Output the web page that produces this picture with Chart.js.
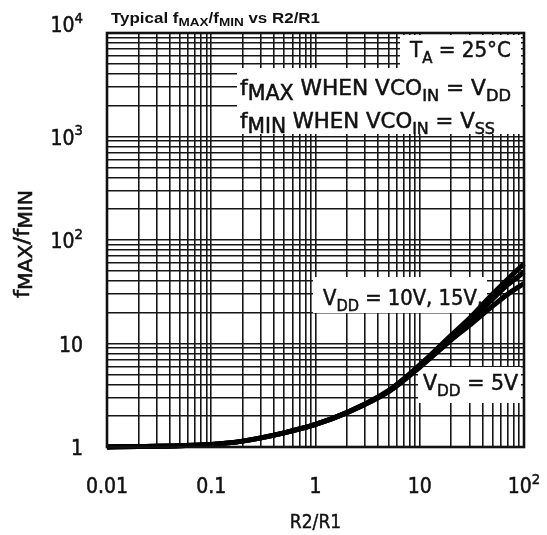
<!DOCTYPE html>
<html><head><meta charset="utf-8">
<script src="https://cdn.jsdelivr.net/npm/chart.js@4/dist/chart.umd.min.js"></script>
<style>html,body{margin:0;padding:0;background:#fff}#wrap{width:547px;height:535px}</style>
</head><body><div id="wrap"><canvas id="c" width="547" height="535"></canvas></div>
<script>
// ---- data ----
const ratioValues = [0.01, 0.02, 0.05, 0.1, 0.2, 0.5, 1, 2, 5, 10, 20, 30, 50, 70, 100];
const vdd15 = [1.0, 1.01, 1.03, 1.06, 1.14, 1.37, 1.65, 2.15, 3.5, 6.2, 12, 17.5, 30, 42, 59];
const vdd10 = [1.0, 1.01, 1.03, 1.06, 1.14, 1.37, 1.65, 2.15, 3.45, 6.1, 11.6, 16.5, 27, 37, 49];
const vdd5  = [1.0, 1.01, 1.03, 1.06, 1.14, 1.37, 1.65, 2.15, 3.4, 5.9, 10.8, 15, 23, 30, 38];
const xDecades = [0.01, 0.1, 1, 10, 100];
const yDecades = [1, 10, 100, 1000, 10000];
const gridSteps = [1, 2, 3, 4, 5, 6, 7, 8, 9];
const xTickLabels = [[["0.01"]], [["0.1"]], [["1"]], [["10"]], [["10"], ["2", "sup"]]];
const yTickLabels = [[["1"]], [["10"]], [["10"], ["2", "sup"]], [["10"], ["3", "sup"]], [["10"], ["4", "sup"]]];
const titleText = [["Typical f"], ["MAX", "tsub"], ["/f"], ["MIN", "tsub"], [" vs R2/R1"]];
const xTitle = [["R2/R1"]];
const yTitle = [["f"], ["MAX", "ysub"], ["/f"], ["MIN", "ysub"]];
const noteTemp = [["T"], ["A", "sub"], [" = 25°C"]];
const noteMax = [["f"], ["MAX", "fsub"], [" WHEN VCO"], ["IN", "sub"], [" = V"], ["DD", "sub"]];
const noteMin = [["f"], ["MIN", "fsub"], [" WHEN VCO"], ["IN", "sub"], [" = V"], ["SS", "sub"]];
const label10 = [["V"], ["DD", "sub"], [" = 10V, 15V,"]];
const label5 = [["V"], ["DD", "sub"], [" = 5V"]];

// ---- drawing helpers ----
const FONT_N = '"Liberation Sans Narrow","DejaVu Sans Condensed","Arial Narrow",sans-serif';
const FONT_B = '"Liberation Sans",Arial,sans-serif';
const KINDS = {
  n: {s: 1, dy: 0},
  sub: {s: 0.75, dy: 0.26},
  fsub: {s: 0.95, dy: 0.22},
  ysub: {s: 0.9, dy: 0.16},
  tsub: {s: 0.8, dy: 0.22},
  sup: {s: 0.7, dy: -0.45}
};
function drawRich(ctx, parts, x, y, o) {
  const size = o.size, fam = o.family || FONT_N, wt = o.weight || 'normal';
  const segs = parts.map(([t, k]) => {
    const K = KINDS[k || 'n'];
    const font = `${wt} ${(size * K.s).toFixed(1)}px ${fam}`;
    ctx.font = font;
    return {t, font, w: ctx.measureText(t).width, dy: K.dy * size};
  });
  const W = segs.reduce((a, s) => a + s.w, 0);
  const sx = o.width ? o.width / W : 1;
  let x0 = x;
  if (o.align === 'right') x0 = x - W * sx;
  else if (o.align === 'center') x0 = x - W * sx / 2;
  ctx.save();
  ctx.translate(x0, y);
  ctx.scale(sx, 1);
  ctx.fillStyle = '#111';
  ctx.strokeStyle = '#111';
  ctx.lineWidth = o.stroke || 0;
  ctx.textAlign = 'left';
  ctx.textBaseline = 'alphabetic';
  let cx = 0;
  for (const s of segs) {
    ctx.font = s.font;
    ctx.fillText(s.t, cx, s.dy);
    if (o.stroke) ctx.strokeText(s.t, cx, s.dy);
    cx += s.w;
  }
  ctx.restore();
}
function makeTicks(decades) {
  const t = [];
  for (let i = 0; i < decades.length - 1; i++)
    for (const s of gridSteps) t.push({value: +(decades[i] * s).toPrecision(6)});
  t.push({value: decades[decades.length - 1]});
  return t;
}

const annot = {
  id: 'annot',
  beforeDatasetsDraw(chart) {
    const ctx = chart.ctx;
    ctx.save();
    ctx.fillStyle = '#fff';
    ctx.beginPath();
    ctx.moveTo(400, 35); ctx.lineTo(521, 35); ctx.lineTo(521, 134);
    ctx.lineTo(237, 134); ctx.lineTo(237, 68); ctx.lineTo(400, 68);
    ctx.closePath(); ctx.fill();
    ctx.fillRect(313, 277, 174, 36);
    ctx.fillRect(418, 367, 103, 36);
    ctx.restore();
  },
  afterDatasetsDraw(chart) {
    const ctx = chart.ctx, a = chart.chartArea;
    ctx.save();
    ctx.strokeStyle = '#111';
    ctx.lineWidth = 2.6;
    ctx.strokeRect(a.left, a.top, a.right - a.left, a.bottom - a.top);
    ctx.restore();
  },
  afterDraw(chart) {
    const ctx = chart.ctx, xs = chart.scales.x, ys = chart.scales.y;
    // tick labels
    xDecades.forEach((v, i) => {
      drawRich(ctx, xTickLabels[i], xs.getPixelForValue(v), 493, {size: 21, align: 'center', stroke: 0.5});
    });
    yDecades.forEach((v, i) => {
      const py = ys.getPixelForValue(v);
      const base = (i === yDecades.length - 1) ? py - 1 : py + 8;
      drawRich(ctx, yTickLabels[i], 83, base, {size: 21, align: 'right', stroke: 0.5});
    });
    // titles
    drawRich(ctx, titleText, 111, 23, {size: 14, weight: 'bold', family: FONT_B, width: 209});
    drawRich(ctx, xTitle, xs.getPixelForValue(1), 528, {size: 19, align: 'center', stroke: 0.4});
    ctx.save();
    ctx.translate(29, 244);
    ctx.rotate(-Math.PI / 2);
    drawRich(ctx, yTitle, 0, 0, {size: 21, align: 'center', width: 108, stroke: 0.5});
    ctx.restore();
    // notes
    drawRich(ctx, noteTemp, 511, 57, {size: 22, align: 'right', width: 101, stroke: 0.5});
    drawRich(ctx, noteMax, 240, 95, {size: 22, width: 271, stroke: 0.5});
    drawRich(ctx, noteMin, 240, 128, {size: 22, width: 255, stroke: 0.5});
    drawRich(ctx, label10, 323, 305, {size: 22, width: 160, stroke: 0.5});
    drawRich(ctx, label5, 423, 390, {size: 22, width: 95, stroke: 0.5});
  }
};

const toPts = arr => ratioValues.map((x, i) => ({x, y: arr[i]}));
const lineStyle = {borderColor: '#000', borderWidth: 5, pointRadius: 0, cubicInterpolationMode: 'monotone', clip: 6, fill: false};
const gridOpts = {color: '#161616', lineWidth: 1.6, drawTicks: false};

new Chart(document.getElementById('c'), {
  type: 'line',
  data: {
    datasets: [
      Object.assign({label: 'VDD = 15V', data: toPts(vdd15)}, lineStyle),
      Object.assign({label: 'VDD = 10V', data: toPts(vdd10)}, lineStyle),
      Object.assign({label: 'VDD = 5V', data: toPts(vdd5)}, lineStyle)
    ]
  },
  options: {
    responsive: false,
    animation: false,
    devicePixelRatio: 1,
    layout: {padding: {left: 107, right: 23, top: 33, bottom: 88}},
    plugins: {legend: {display: false}, tooltip: {enabled: false}},
    scales: {
      x: {
        type: 'logarithmic', min: 0.01, max: 100,
        afterBuildTicks: s => { s.ticks = makeTicks(xDecades); },
        ticks: {display: false, autoSkip: false},
        grid: gridOpts, border: {display: false}
      },
      y: {
        type: 'logarithmic', min: 1, max: 10000,
        afterBuildTicks: s => { s.ticks = makeTicks(yDecades); },
        ticks: {display: false, autoSkip: false},
        grid: gridOpts, border: {display: false}
      }
    }
  },
  plugins: [annot]
});
</script>
</body></html>
